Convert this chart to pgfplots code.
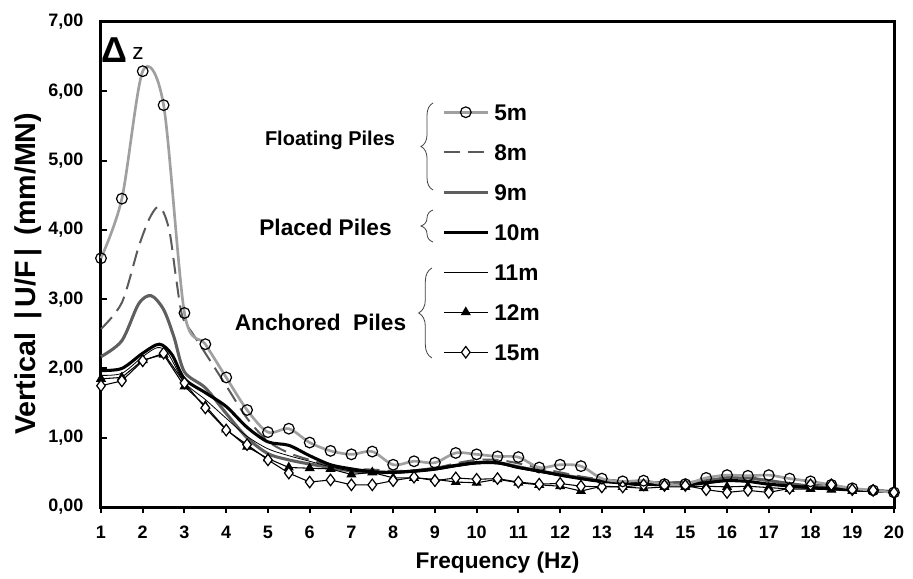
\documentclass[border=0pt]{standalone}
\usepackage{pgfplots}
\pgfplotsset{compat=1.18}
\usepackage{fontspec}
\setmainfont{Liberation Sans}
\usetikzlibrary{decorations.pathreplacing}
\definecolor{lgray}{RGB}{160,160,160}
\definecolor{dgray}{RGB}{90,90,90}
\definecolor{mgray}{RGB}{95,95,95}
\pgfplotsset{legend image code/.code={\draw[mark repeat=2,mark phase=2,#1] plot coordinates {(0pt,0pt) (16.5pt,0pt) (33pt,0pt)};}}
\begin{document}
\begin{tikzpicture}
\begin{axis}[
  name=main,
  scale only axis,
  width=594.75pt, height=363.75pt,
  xmin=1, xmax=20, ymin=0, ymax=7,
  xtick={1,2,...,20},
  ytick={0,1,...,7},
  clip=false,
  axis line style={line width=2.25pt},
  xtick pos=bottom, ytick pos=left,
  tick align=inside,
  major tick length=4.5pt,
  tick style={line width=1.5pt, black},
  xtick style={yshift=-4.5pt},
  tick label style={font=\bfseries\fontsize{13.5}{15}\selectfont, inner sep=0pt, /pgf/number format/assume math mode=true},
  yticklabel style={xshift=-13pt, /pgf/number format/.cd, fixed, fixed zerofill, precision=2, use comma},
  xticklabel style={yshift=-14pt, text height=9.5pt, text depth=0pt},
  xlabel={Frequency (Hz)},
  ylabel={Vertical \,|\,U/F\,|\, (mm/MN)},
  xlabel style={font=\bfseries\fontsize{17}{17}\selectfont, at={(axis description cs:0.5,0)}, anchor=center, yshift=-42pt},
  ylabel style={font=\bfseries\fontsize{21.5}{21.5}\selectfont, at={(axis description cs:0,0.481)}, anchor=center, yshift=54.75pt},
  legend style={at={(0.43,0.831)}, anchor=north west, draw=none, fill=none, inner sep=0pt, row sep=18pt, column sep=3.75pt, font=\bfseries\fontsize{17}{17}\selectfont, nodes={inner sep=0pt, text height=12pt, text depth=0pt}},
  legend cell align=left,
]
% 9m
\addplot[forget plot, color=mgray, line width=2.3pt, smooth] coordinates {(1,2.17)(1.5,2.4)(1.9,2.93)(2.2,3.05)(2.5,2.85)(2.75,2.45)(3,1.95)(3.5,1.72)(4,1.35)(4.5,1.0)(5,0.77)(5.5,0.68)(6,0.62)(6.5,0.57)(7,0.52)(7.5,0.5)(8,0.5)(8.5,0.52)(9,0.56)(9.5,0.6)(10,0.64)(10.5,0.64)(11,0.58)(11.5,0.52)(12,0.47)(12.5,0.42)(13,0.38)(14,0.35)(15,0.35)(15.5,0.38)(16,0.42)(16.5,0.42)(17,0.38)(18,0.3)(19,0.25)(20,0.22)};
% 8m
\addplot[forget plot, color=dgray, line width=1.5pt, dash pattern=on 12pt off 6pt, smooth] coordinates {(1,2.57)(1.5,2.95)(1.9,3.75)(2.15,4.15)(2.35,4.33)(2.5,4.25)(2.65,3.95)(2.8,3.3)(2.95,2.75)(3.2,2.5)(3.5,2.22)(4,1.75)(4.5,1.28)(5,0.95)(5.5,0.78)(6,0.68)(6.5,0.6)(7,0.55)(7.5,0.54)(8,0.52)(8.5,0.53)(9,0.56)(9.5,0.63)(10,0.68)(10.5,0.68)(11,0.63)(11.5,0.56)(12,0.5)(12.5,0.44)(13,0.4)(14,0.36)(15,0.36)(15.5,0.39)(16,0.43)(16.5,0.42)(17,0.38)(18,0.3)(19,0.25)(20,0.22)};
% 10m
\addplot[forget plot, color=black, line width=2.3pt, smooth] coordinates {(1,1.97)(1.5,2.0)(2,2.22)(2.4,2.35)(2.7,2.2)(3,1.85)(3.5,1.65)(4,1.45)(4.5,1.15)(5,0.94)(5.5,0.89)(6,0.74)(6.5,0.61)(7,0.55)(7.5,0.51)(8,0.5)(8.5,0.52)(9,0.55)(9.5,0.6)(10,0.64)(10.5,0.64)(11,0.57)(11.5,0.52)(12,0.46)(12.5,0.41)(13,0.37)(14,0.33)(15,0.32)(15.5,0.35)(16,0.38)(16.5,0.37)(17,0.33)(18,0.28)(19,0.25)(20,0.22)};
% 11m
\addplot[forget plot, color=black, line width=0.6pt, smooth] coordinates {(1,1.9)(1.5,1.93)(2,2.17)(2.35,2.3)(2.6,2.22)(3,1.8)(3.5,1.55)(4,1.28)(4.5,1.02)(5,0.84)(5.5,0.74)(6,0.66)(6.5,0.58)(7,0.52)(7.5,0.5)(8,0.49)(8.5,0.5)(9,0.53)(9.5,0.58)(10,0.62)(10.5,0.62)(11,0.56)(11.5,0.5)(12,0.45)(12.5,0.4)(13,0.36)(14,0.33)(15,0.32)(15.5,0.34)(16,0.37)(16.5,0.36)(17,0.32)(18,0.27)(19,0.24)(20,0.22)};
% 12m
\addplot[forget plot, color=black, line width=0.8pt, mark=triangle*, mark size=3.6pt, mark options={fill=black, solid}] coordinates {(1,1.85)(1.5,1.87)(2,2.12)(2.5,2.2)(3,1.74)(3.5,1.46)(4,1.12)(4.5,0.87)(5,0.7)(5.5,0.57)(6,0.56)(6.5,0.55)(7,0.47)(7.5,0.5)(8,0.42)(8.5,0.42)(9,0.4)(9.5,0.36)(10,0.35)(10.5,0.4)(11,0.35)(11.5,0.32)(12,0.3)(12.5,0.23)(13,0.3)(13.5,0.29)(14,0.27)(14.5,0.29)(15,0.29)(15.5,0.3)(16,0.29)(16.5,0.3)(17,0.28)(17.5,0.26)(18,0.26)(18.5,0.25)(19,0.23)(19.5,0.23)(20,0.21)};
% 15m
\addplot[forget plot, color=black, line width=0.8pt, mark=diamond*, mark size=4.3pt, mark options={fill=white, solid, line width=0.9pt}] coordinates {(1,1.75)(1.5,1.82)(2,2.11)(2.5,2.22)(3,1.79)(3.5,1.43)(4,1.11)(4.5,0.9)(5,0.68)(5.5,0.49)(6,0.36)(6.5,0.39)(7,0.32)(7.5,0.32)(8,0.38)(8.5,0.43)(9,0.38)(9.5,0.42)(10,0.4)(10.5,0.41)(11,0.36)(11.5,0.33)(12,0.34)(12.5,0.3)(13,0.29)(13.5,0.29)(14,0.32)(14.5,0.31)(15,0.31)(15.5,0.25)(16,0.21)(16.5,0.24)(17,0.21)(17.5,0.27)(18,0.32)(18.5,0.32)(19,0.25)(19.5,0.24)(20,0.21)};
% 5m
\addplot[forget plot, color=lgray, line width=2pt, smooth, mark=o, mark size=4pt, mark options={fill=white, draw=black, line width=0.9pt, solid}] coordinates {(1,3.59)(1.5,4.45)(2,6.29)(2.5,5.80)(3,2.80)(3.5,2.35)(4,1.87)(4.5,1.40)(5,1.08)(5.5,1.13)(6,0.93)(6.5,0.81)(7,0.76)(7.5,0.80)(8,0.61)(8.5,0.66)(9,0.64)(9.5,0.78)(10,0.76)(10.5,0.73)(11,0.72)(11.5,0.57)(12,0.61)(12.5,0.59)(13,0.41)(13.5,0.37)(14,0.38)(14.5,0.33)(15,0.33)(15.5,0.42)(16,0.46)(16.5,0.45)(17,0.46)(17.5,0.41)(18,0.37)(18.5,0.32)(19,0.27)(19.5,0.24)(20,0.21)};
% legend
\addlegendimage{color=lgray, line width=2pt, mark=o, mark size=4pt, mark options={fill=white, draw=black, line width=0.9pt, solid}}
\addlegendentry{5m}
\addlegendimage{color=dgray, line width=1.5pt, dash pattern=on 12pt off 6pt}
\addlegendentry{8m}
\addlegendimage{color=mgray, line width=2.3pt}
\addlegendentry{9m}
\addlegendimage{color=black, line width=2.3pt}
\addlegendentry{10m}
\addlegendimage{color=black, line width=0.6pt}
\addlegendentry{11m}
\addlegendimage{color=black, line width=0.8pt, mark=triangle*, mark size=3.6pt, mark options={fill=black, solid}}
\addlegendentry{12m}
\addlegendimage{color=black, line width=0.8pt, mark=diamond*, mark size=4.3pt, mark options={fill=white, solid, line width=0.9pt}}
\addlegendentry{15m}
% group labels
\node[font=\bfseries\fontsize{15}{15}\selectfont] at (rel axis cs:0.2888,0.7567) {Floating Piles};
\node[font=\bfseries\fontsize{17}{17}\selectfont] at (rel axis cs:0.2831,0.5773) {Placed Piles};
\node[font=\bfseries\fontsize{17}{17}\selectfont] at (rel axis cs:0.2768,0.3814) {Anchored\ \ Piles};
\draw[decorate, decoration={brace, amplitude=9pt}, line width=0.6pt, black!75] (rel axis cs:0.4187,0.6536) -- (rel axis cs:0.4187,0.833);
\draw[decorate, decoration={brace, amplitude=9pt}, line width=0.6pt, black!75] (rel axis cs:0.4187,0.5464) -- (rel axis cs:0.4187,0.6124);
\draw[decorate, decoration={brace, amplitude=10pt}, line width=0.6pt, black!75] (rel axis cs:0.4174,0.3072) -- (rel axis cs:0.4174,0.4928);
% Delta z
\node[font=\bfseries\fontsize{27}{27}\selectfont] at (rel axis cs:0.0175,0.9423) {Δ};
\node[font=\fontsize{17}{17}\selectfont] at (rel axis cs:0.0467,0.934) {z};
\end{axis}
\pgfresetboundingbox
\path[use as bounding box] ([shift={(-75.75pt,-53.25pt)}]main.south west) rectangle ([shift={(14.25pt,16.5pt)}]main.north east);
\end{tikzpicture}
\end{document}
